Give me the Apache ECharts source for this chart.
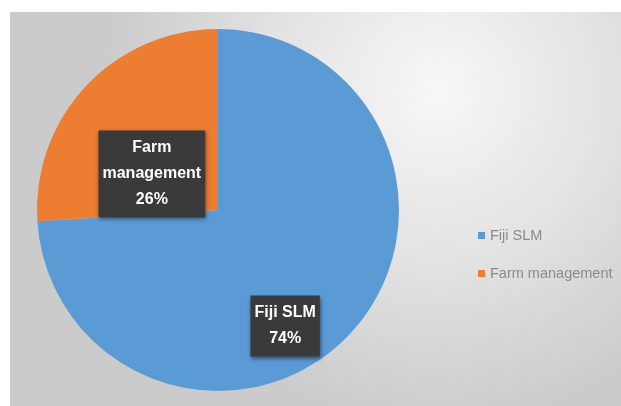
<!DOCTYPE html>
<html>
<head>
<meta charset="utf-8">
<script src="https://cdn.jsdelivr.net/npm/echarts@6/dist/echarts.min.js"></script>
<style>
  html, body { margin: 0; padding: 0; background: #fff; }
  #chart { position: absolute; left: 10px; top: 12px; width: 611px; height: 394px; }
</style>
</head>
<body>
<div id="chart"></div>
<script>
// slice names and shares (%)
const names = ["Fiji SLM", "Farm management"];
const values = [74, 26];
const colors = ["#5b9bd5", "#ed7d31"];
const legendOrder = ["Fiji SLM", "Farm management"];

const chart = echarts.init(document.getElementById("chart"), null, { renderer: "canvas" });

const pieData = names.map((n, i) => ({ name: n, value: values[i], itemStyle: { color: colors[i] } }));

chart.setOption({
  backgroundColor: {
    type: "radial",
    x: 0.7, y: 0.2, r: 0.85,
    colorStops: [
      { offset: 0, color: "#f7f7f7" },
      { offset: 0.5, color: "#e3e3e3" },
      { offset: 1, color: "#cbcbcb" },
    ],
  },
  legend: {
    orient: "vertical",
    left: 468,
    top: 216,
    padding: 0,
    itemWidth: 7,
    itemHeight: 7,
    itemGap: 23,
    icon: "rect",
    data: legendOrder,
    textStyle: { color: "#8a8a8a", fontSize: 14.5, fontFamily: "Liberation Sans" },
  },
  series: [
    {
      type: "pie",
      center: [208, 198],
      radius: 181,
      startAngle: 90,
      clockwise: true,
      silent: true,
      data: pieData,
      label: {
        show: true,
        position: "inside",
        formatter: (p) => p.name === "Farm management"
          ? "Farm\nmanagement\n" + p.value + "%"
          : p.name + "\n" + p.value + "%",
        color: "#ffffff",
        fontFamily: "Liberation Sans",
        fontWeight: "bold",
        fontSize: 16,
        lineHeight: 26,
        backgroundColor: "#3a3a3a",
        padding: [5, 4, 4, 4],
        shadowColor: "rgba(0,0,0,0.45)",
        shadowBlur: 4,
        shadowOffsetX: 1,
        shadowOffsetY: 2,
      },
      labelLine: { show: false },
      labelLayout: (params) => ({ dy: params.dataIndex === 0 ? 52 : 28, dx: params.dataIndex === 0 ? -1 : 2 }),
      emphasis: { disabled: true },
    },
  ],
});
</script>
</body>
</html>
